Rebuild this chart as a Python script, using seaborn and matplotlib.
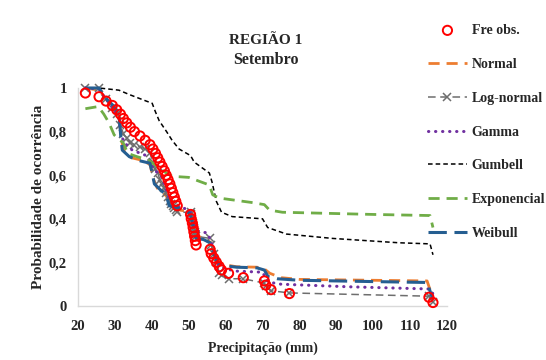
import numpy as np
import pandas as pd
import matplotlib
matplotlib.use("Agg")
import matplotlib.pyplot as plt
import seaborn as sns

# ---------------- data ----------------
obs_x = [22.0, 25.7, 27.6, 29.3, 30.5, 31.5, 32.3, 33.2, 34.2, 35.3, 36.8, 38.2, 39.5,
         40.3, 41.0, 41.6, 42.2, 42.8, 43.4, 43.9, 44.4, 44.9, 45.3, 45.7, 46.1, 46.5,
         46.9, 50.5, 50.7, 51.0, 51.2, 51.4, 51.6, 51.8, 52.0, 55.8, 56.1, 56.8, 57.5,
         58.3, 58.9, 60.8, 64.8, 70.5, 70.9, 72.3, 77.3, 115.1, 116.2]
obs_p = [0.977, 0.96, 0.94, 0.92, 0.90, 0.88, 0.86, 0.84, 0.82, 0.80, 0.78, 0.76, 0.74,
         0.72, 0.70, 0.68, 0.66, 0.64, 0.62, 0.60, 0.58, 0.56, 0.54, 0.52, 0.50, 0.48,
         0.46, 0.42, 0.40, 0.38, 0.36, 0.34, 0.32, 0.30, 0.28, 0.26, 0.24, 0.22, 0.20,
         0.18, 0.165, 0.15, 0.13, 0.115, 0.096, 0.075, 0.057, 0.04, 0.016]

lognormal_p = [1.0, 1.0, 0.95, 0.91, 0.88, 0.83, 0.79, 0.77, 0.75, 0.74, 0.73, 0.72, 0.70,
               0.66, 0.63, 0.61, 0.58, 0.56, 0.54, 0.52, 0.50, 0.48, 0.47, 0.46, 0.45, 0.44,
               0.43, 0.43, 0.42, 0.40, 0.38, 0.36, 0.34, 0.33, 0.32, 0.31, 0.28, 0.24, 0.20,
               0.15, 0.14, 0.125, 0.125, 0.105, 0.09, 0.07, 0.06, 0.045, 0.02]

normal_x = [22, 25.7, 27.5, 29.5, 31.1, 31.8, 32.5, 34.5, 37.0, 39.5, 40.5, 41.5, 43.0,
            44.2, 45.2, 47.5, 49.5, 50.5, 51.5, 52.2, 54.5, 56.0, 56.9, 57.9, 59.5, 63.0,
            68.5, 70.5, 72.0, 75.0, 80, 100, 114.6, 116.2]
normal_p = [1.0, 0.99, 0.95, 0.91, 0.87, 0.76, 0.71, 0.68, 0.67, 0.65, 0.58, 0.54, 0.52,
            0.50, 0.46, 0.44, 0.435, 0.43, 0.35, 0.32, 0.31, 0.29, 0.25, 0.21, 0.19, 0.18,
            0.178, 0.17, 0.15, 0.13, 0.122, 0.118, 0.115, 0.035]

gamma_x = [22, 25.7, 27.5, 29.5, 31.1, 31.6, 32.5, 34.7, 38.5, 39.8, 41.0, 42.8, 44.0,
           45.0, 47.0, 50.0, 50.8, 51.5, 52.3, 55.0, 56.0, 57.0, 58.0, 60.0, 63.0, 70.0,
           71.5, 75.0, 93.6, 115.4, 116.2]
gamma_p = [1.0, 0.995, 0.95, 0.91, 0.86, 0.79, 0.75, 0.715, 0.69, 0.65, 0.62, 0.59, 0.53,
           0.48, 0.46, 0.44, 0.42, 0.37, 0.345, 0.335, 0.30, 0.24, 0.19, 0.17, 0.16, 0.155,
           0.11, 0.10, 0.088, 0.078, 0.055]

gumbel_x = [22, 25.7, 31.1, 33.9, 38.5, 40.1, 41.0, 42.0, 44.0, 45.5, 47.4, 50.5, 51.5,
            55.6, 56.3, 57.5, 58.9, 61.8, 70.0, 71.4, 76.5, 89, 107, 115.4, 116.2]
gumbel_p = [1.0, 1.0, 0.99, 0.97, 0.94, 0.93, 0.89, 0.85, 0.80, 0.76, 0.72, 0.69, 0.66,
            0.61, 0.57, 0.48, 0.43, 0.41, 0.40, 0.36, 0.33, 0.31, 0.29, 0.285, 0.235]

expo_x = [22, 25.5, 27.0, 28.4, 29.8, 31.0, 32.2, 33.5, 36, 39, 41, 42.5, 45.5, 50, 54,
          55.6, 56.5, 58.3, 67, 70.5, 71.9, 75.4, 100, 115.4, 116.2]
expo_p = [0.905, 0.915, 0.88, 0.84, 0.785, 0.765, 0.75, 0.70, 0.685, 0.67, 0.645, 0.625,
          0.595, 0.59, 0.565, 0.555, 0.51, 0.495, 0.475, 0.465, 0.44, 0.43, 0.42, 0.415, 0.36]

weibull_x = [22, 25.7, 27.1, 29.5, 31.1, 31.6, 32.0, 33.9, 37.0, 39.5, 40.1, 40.7, 42.5,
             43.9, 44.7, 47.0, 49.0, 50.5, 51.5, 52.0, 54.0, 55.8, 56.8, 57.8, 59.5, 63.0,
             68.5, 70.5, 71.5, 74.0, 80, 100, 114.6, 116.2]
weibull_p = [1.0, 1.0, 0.96, 0.92, 0.885, 0.775, 0.715, 0.685, 0.665, 0.655, 0.61, 0.56,
             0.53, 0.51, 0.46, 0.45, 0.44, 0.42, 0.34, 0.31, 0.305, 0.29, 0.24, 0.20, 0.185,
             0.178, 0.175, 0.165, 0.135, 0.125, 0.118, 0.112, 0.108, 0.03]

x_ticks = [20, 30, 40, 50, 60, 70, 80, 90, 100, 110, 120]
y_ticks = [0, 0.2, 0.4, 0.6, 0.8, 1.0]
y_tick_labels = ["0", "0,2", "0,4", "0,6", "0,8", "1"]

# ---------------- style ----------------
sns.set_theme(style="white")
plt.rcParams["font.family"] = ["Liberation Serif", "DejaVu Serif"]
plt.rcParams["font.weight"] = "bold"

fig = plt.figure(figsize=(5.46, 3.6), dpi=100)
ax = fig.add_axes([78 / 546, 54 / 360, 369 / 546, 218 / 360])

common = dict(ax=ax, sort=False, estimator=None, clip_on=False)

sns.lineplot(x=normal_x, y=normal_p, color="#ED7D31", lw=2.0,
             linestyle=(0, (4, 2.5)), label="Normal", zorder=3, **common)
sns.lineplot(x=obs_x, y=lognormal_p, color="#6E6E6E", lw=1.1,
             linestyle=(0, (5, 3)), marker="x", markersize=6,
             markeredgecolor="#6E6E6E", markeredgewidth=1.1,
             label="Log-normal", zorder=4, **common)
sns.lineplot(x=gamma_x, y=gamma_p, color="#7030A0", lw=2.2,
             linestyle=(0, (0.1, 2.2)), dash_capstyle="round", solid_capstyle="round",
             label="Gamma", zorder=5, **common)
sns.lineplot(x=gumbel_x, y=gumbel_p, color="#000000", lw=1.1,
             linestyle=(0, (3, 2)), label="Gumbell", zorder=6, **common)
sns.lineplot(x=expo_x, y=expo_p, color="#70AD47", lw=2.0,
             linestyle=(0, (4, 2.5)), label="Exponencial", zorder=7, **common)
sns.lineplot(x=weibull_x, y=weibull_p, color="#255E91", lw=2.2,
             linestyle=(0, (6, 2.5)), label="Weibull", zorder=8, **common)
sns.scatterplot(x=obs_x, y=obs_p, ax=ax, marker="o", s=44, facecolors="none",
                edgecolor="#FF0000", linewidth=1.4, label="Fre obs.", zorder=10,
                clip_on=False)

ax.set_xlim(20, 120)
ax.set_ylim(0, 1)
ax.set_xticks(x_ticks)
ax.set_xticklabels([str(t) for t in x_ticks])
ax.set_yticks(y_ticks)
ax.set_yticklabels(y_tick_labels)
ax.tick_params(axis="both", length=0, labelsize=10.5)
ax.tick_params(axis="x", pad=10)
ax.tick_params(axis="y", pad=8)
for lab in ax.get_xticklabels() + ax.get_yticklabels():
    lab.set_fontweight("bold")

for s in ["top", "right"]:
    ax.spines[s].set_visible(False)
for s in ["left", "bottom"]:
    ax.spines[s].set_color("#D9D9D9")
    ax.spines[s].set_linewidth(1.0)

ax.set_xlabel("Precipitação (mm)", fontsize=10, fontweight="bold", labelpad=6)
ax.set_ylabel("Probabilidade de ocorrência", fontsize=11, fontweight="bold")
ax.yaxis.set_label_coords(-0.09, 0.5)

fig.text(266 / 546, 1 - 40 / 360, "REGIÃO 1", ha="center", va="center",
         fontsize=11, fontweight="bold")
fig.text(266 / 546, 1 - 60 / 360, "Setembro", ha="center", va="center",
         fontsize=11.5, fontweight="bold")

handles, labels = ax.get_legend_handles_labels()
order = ["Fre obs.", "Normal", "Log-normal", "Gamma", "Gumbell", "Exponencial", "Weibull"]
hmap = dict(zip(labels, handles))
if ax.get_legend() is not None:
    ax.get_legend().remove()
fig.legend([hmap[k] for k in order], order, loc="upper left",
           bbox_to_anchor=(428 / 546, 1 - 24 / 360), frameon=False,
           prop={"family": ["Liberation Serif"], "weight": "bold", "size": 10},
           handlelength=2.8, handletextpad=0.35, labelspacing=1.5,
           borderpad=0, borderaxespad=0)

fig.savefig("out.png", dpi=100)
